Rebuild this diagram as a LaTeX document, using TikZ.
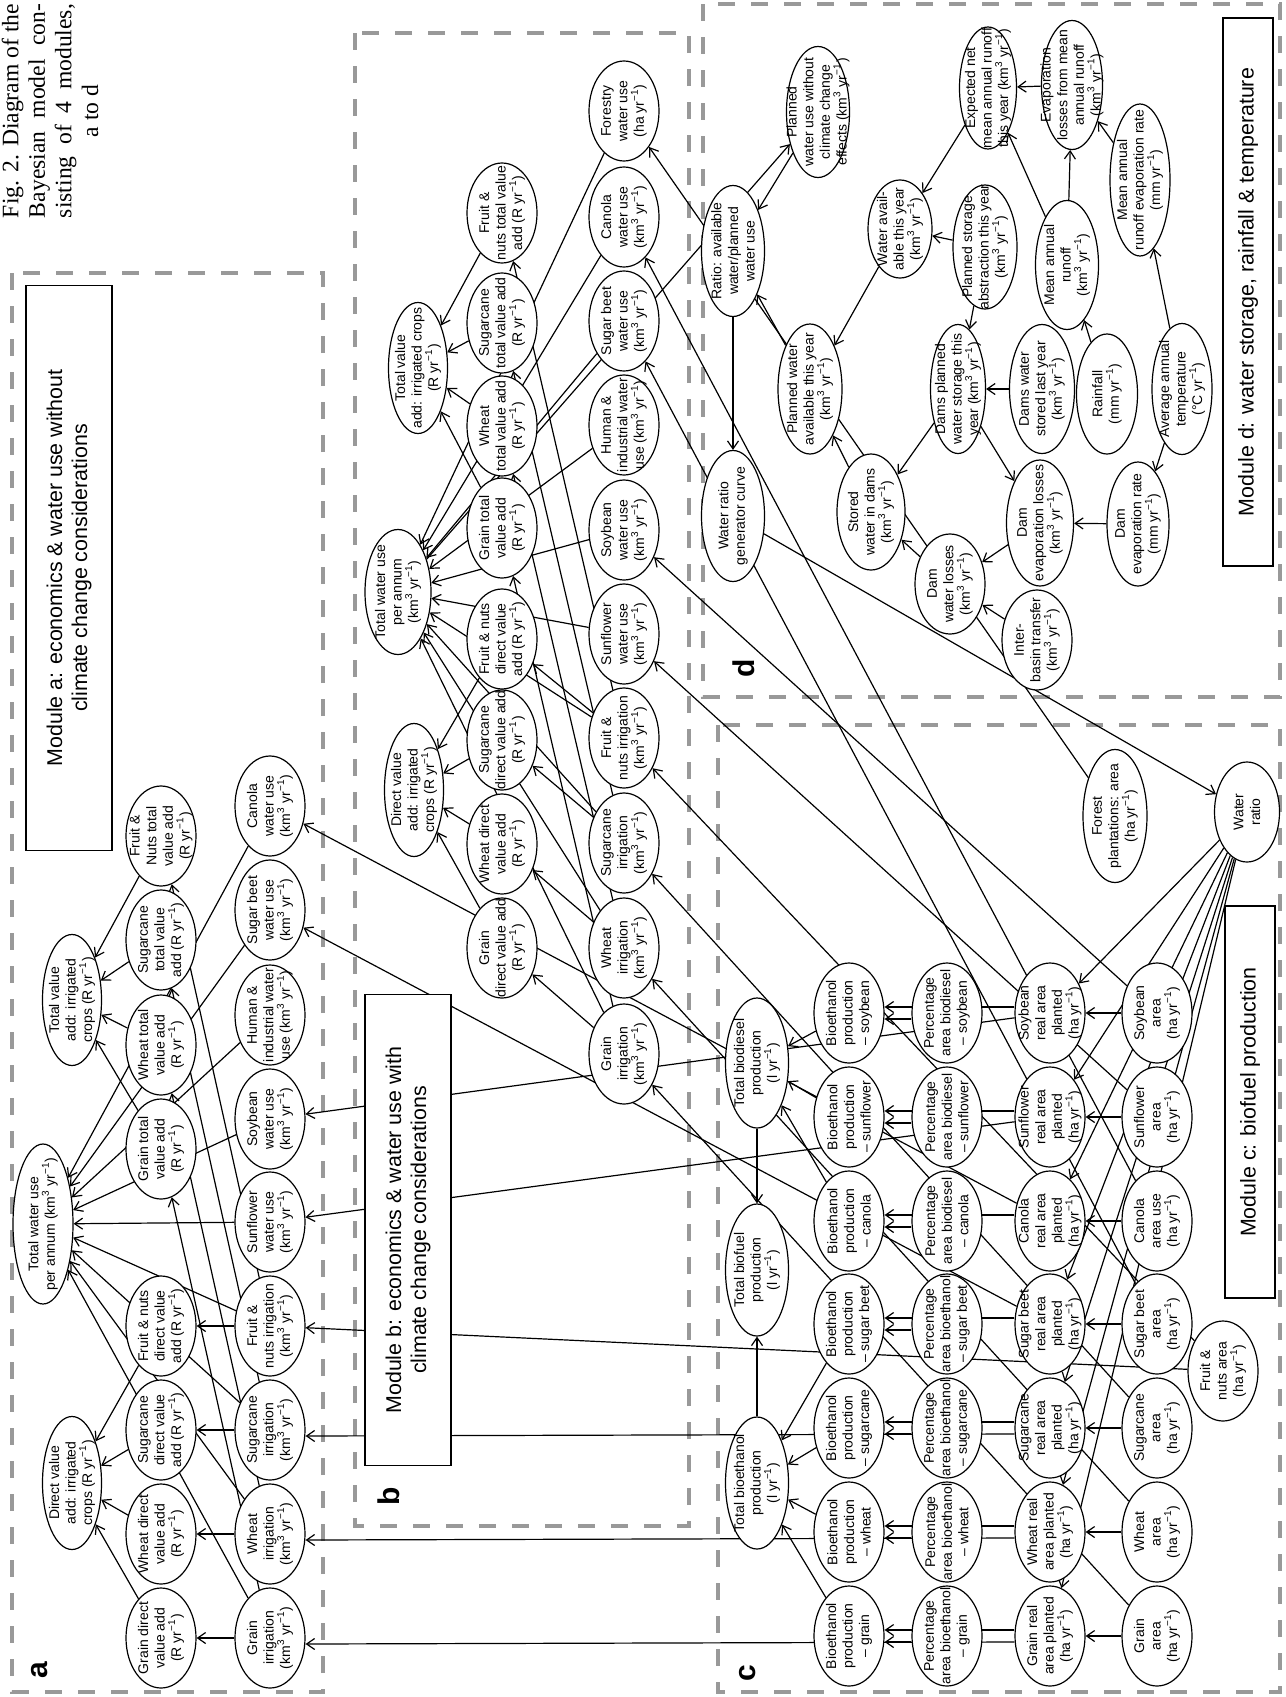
\documentclass[tikz,border=0pt]{standalone}
\usepackage{fontspec}
\setmainfont{Liberation Serif}
\setsansfont{Liberation Sans}
\usetikzlibrary{shapes.geometric, arrows.meta, backgrounds}
\definecolor{framegray}{gray}{0.6}
\newcommand{\uKm}{(km\textsuperscript{3} yr\textsuperscript{−1})}
\newcommand{\uR}{(R yr\textsuperscript{−1})}
\newcommand{\uHa}{(ha yr\textsuperscript{−1})}
\newcommand{\uMm}{(mm yr\textsuperscript{−1})}
\newcommand{\uL}{(l yr\textsuperscript{−1})}

\begin{document}
\begin{tikzpicture}[
    x=0.5pt, y=-0.5pt,
    bnode/.style={ellipse, draw, fill=white, line width=0.6pt, rotate=90, align=center,
        font=\sffamily\fontsize{7}{8.3}\selectfont, inner xsep=-30pt, inner ysep=-14pt,
        minimum width=50pt, minimum height=35pt},
    titlebox/.style={draw, fill=white, line width=0.6pt, rotate=90, align=center, inner sep=0pt,
        font=\sffamily\fontsize{10.7}{12.5}\selectfont},
    modframe/.style={draw=framegray, line width=2.2pt, dash pattern=on 8.5pt off 8pt},
    letter/.style={rotate=90, font=\sffamily\bfseries\fontsize{15}{18}\selectfont},
    figcap/.style={rotate=90, align=center, inner sep=0pt, font=\rmfamily\fontsize{11.8}{13.3}\selectfont},
    arr/.style={-{Straight Barb[length=4pt,width=5.5pt]}, line width=0.6pt}
]
    \useasboundingbox (0,0) rectangle (1285,1697);

    % 图题
    \node[figcap] (fig) at (50,111) {\makebox[107pt][s]{Fig. 2. Diagram of the}\\
        \makebox[107pt][s]{Bayesian model con-}\\ \makebox[107pt][s]{sisting of 4 modules,}\\ a to d};

    % 模块框
    \node[titlebox, minimum width=282.5pt, minimum height=43pt] (tita) at (69,568)
        {Module a: economics \& water use without\\climate change considerations};
    \node[titlebox, minimum width=235.5pt, minimum height=43pt] (titb) at (408,1230)
        {Module b: economics \& water use with\\climate change considerations};
    \node[titlebox, minimum width=196pt, minimum height=25pt] (titc) at (1250,1102)
        {Module c: biofuel production};
    \node[titlebox, minimum width=274pt, minimum height=25pt] (titd) at (1248,292)
        {Module d: water storage, rainfall \& temperature};
    \node[letter] (laba) at (40,1670) {a};
    \node[letter] (labb) at (389,1496) {b};
    \node[letter] (labc) at (748,1673) {c};
    \node[letter] (labd) at (744,668) {d};

    % 模块 a
    \node[bnode, minimum width=65.5pt, minimum height=29.5pt] (tva) at (72,1000) {Total value\\add: irrigated\\crops \uR};
    \node[bnode, minimum width=80pt, minimum height=30pt] (twa) at (43,1224) {Total water use\\per annum \uKm};
    \node[bnode, minimum width=66.5pt, minimum height=29.5pt] (dva) at (72,1483) {Direct value\\add: irrigated\\crops \uR};
    \node[bnode] (fnta) at (161,836) {Fruit \&\\Nuts total\\value add\\\uR};
    \node[bnode] (scta) at (161,940) {Sugarcane\\total value\\add \uR};
    \node[bnode] (wtta) at (161,1045) {Wheat total\\value add\\\uR};
    \node[bnode] (grta) at (161,1149) {Grain total\\value add\\\uR};
    \node[bnode] (fnda) at (161,1326) {Fruit \& nuts\\direct value\\add \uR};
    \node[bnode] (scda) at (161,1430) {Sugarcane\\direct value\\add \uR};
    \node[bnode] (wtda) at (161,1534) {Wheat direct\\value add\\\uR};
    \node[bnode] (grda) at (161,1638) {Grain direct\\value add\\\uR};
    \node[bnode] (canwa) at (270,806) {Canola\\water use\\\uKm};
    \node[bnode] (sbwa) at (270,910) {Sugar beet\\water use\\\uKm};
    \node[bnode] (hiwa) at (270,1015) {Human \&\\industrial water\\use \uKm};
    \node[bnode] (sywa) at (270,1119) {Soybean\\water use\\\uKm};
    \node[bnode] (sfwa) at (270,1222) {Sunflower\\water use\\\uKm};
    \node[bnode] (fnia) at (270,1326) {Fruit \&\\nuts irrigation\\\uKm};
    \node[bnode] (scia) at (270,1430) {Sugarcane\\irrigation\\\uKm};
    \node[bnode] (wtia) at (270,1534) {Wheat\\irrigation\\\uKm};
    \node[bnode] (gria) at (270,1638) {Grain\\irrigation\\\uKm};

    % 模块 b
    \node[bnode, minimum width=65.5pt, minimum height=29.5pt] (tvb) at (418,368) {Total value\\add: irrigated crops\\\uR};
    \node[bnode, minimum width=62.5pt, minimum height=33pt] (twb) at (398,592) {Total water use\\per annum\\\uKm};
    \node[bnode, minimum width=66.5pt, minimum height=29.5pt] (dvb) at (414,790) {Direct value\\add: irrigated\\crops \uR};
    \node[bnode] (fntb) at (502,213) {Fruit \&\\nuts total value\\add \uR};
    \node[bnode] (sctb) at (502,323) {Sugarcane\\total value add\\\uR};
    \node[bnode] (wttb) at (502,426) {Wheat\\total value add\\\uR};
    \node[bnode] (grtb) at (502,528) {Grain total\\value add\\\uR};
    \node[bnode] (fndb) at (502,639) {Fruit \& nuts\\direct value\\add \uR};
    \node[bnode] (scdb) at (502,740) {Sugarcane\\direct value add\\\uR};
    \node[bnode] (wtdb) at (502,844) {Wheat direct\\value add\\\uR};
    \node[bnode] (grdb) at (502,948) {Grain\\direct value add\\\uR};
    \node[bnode] (fowb) at (624,111) {Forestry\\water use\\\uHa};
    \node[bnode] (canwb) at (624,217) {Canola\\water use\\\uKm};
    \node[bnode] (sbwb) at (624,321) {Sugar beet\\water use\\\uKm};
    \node[bnode] (hiwb) at (624,425) {Human \&\\industrial water\\use \uKm};
    \node[bnode] (sywb) at (624,530) {Soybean\\water use\\\uKm};
    \node[bnode] (sfwb) at (624,634) {Sunflower\\water use\\\uKm};
    \node[bnode] (fnib) at (624,738) {Fruit \&\\nuts irrigation\\\uKm};
    \node[bnode] (scib) at (624,843) {Sugarcane\\irrigation\\\uKm};
    \node[bnode] (wtib) at (624,948) {Wheat\\irrigation\\\uKm};
    \node[bnode] (grib) at (624,1054) {Grain\\irrigation\\\uKm};

    % 模块 d
    \node[bnode, minimum width=65.5pt, minimum height=31.5pt] (pwo) at (818,112) {Planned\\water use without\\climate change\\effects \uKm};
    \node[bnode, minimum width=65.5pt, minimum height=31.5pt] (ratio) at (733,251) {Ratio: available\\water/planned\\water use};
    \node[bnode, minimum width=65pt, minimum height=32pt] (pwa) at (810,389) {Planned water\\available this year\\\uKm};
    \node[bnode, minimum width=65.5pt, minimum height=31.5pt] (wrg) at (733,516) {Water ratio\\generator curve};
    \node[bnode, minimum width=58pt, minimum height=34pt] (stored) at (871,512) {Stored\\water in dams\\\uKm};
    \node[bnode, minimum width=49pt, minimum height=32pt] (wavail) at (900,229) {Water avail-\\able this year\\\uKm};
    \node[bnode, minimum width=62pt, minimum height=32pt] (psa) at (985,247) {Planned storage\\abstraction this year\\\uKm};
    \node[bnode, minimum width=64.5pt, minimum height=31.5pt] (mar) at (1067,265) {Mean annual\\runoff\\\uKm};
    \node[bnode, minimum width=61pt, minimum height=28.5pt] (enr) at (988,88) {Expected net\\mean annual runoff\\this year \uKm};
    \node[bnode, minimum width=64.5pt, minimum height=30.5pt] (elr) at (1072,85) {Evaporation\\losses from mean\\annual runoff\\\uKm};
    \node[bnode, minimum width=76pt, minimum height=30pt] (mre) at (1140,180) {Mean annual\\runoff evaporation rate\\\uMm};
    \node[bnode, minimum width=64.5pt, minimum height=27.5pt] (dpw) at (958,389) {Dams planned\\water storage this\\year \uKm};
    \node[bnode, minimum width=64.5pt, minimum height=32.5pt] (dws) at (1042,389) {Dams water\\stored last year\\\uKm};
    \node[bnode, minimum width=60pt, minimum height=30.5pt] (rain) at (1107,394) {Rainfall\\\uMm};
    \node[bnode, minimum width=65.5pt, minimum height=30pt] (temp) at (1182,389) {Average annual\\temperature\\(°C yr\textsuperscript{−1})};
    \node[bnode, minimum width=63pt, minimum height=33.5pt] (del) at (1040,523) {Dam\\evaporation losses\\\uKm};
    \node[bnode, minimum width=62pt, minimum height=31pt] (der) at (1138,524) {Dam\\evaporation rate\\\uMm};
    \node[bnode] (dwl) at (950,584) {Dam\\water losses\\\uKm};
    \node[bnode] (ibt) at (1037,640) {Inter-\\basin transfer\\\uKm};

    % 模块 c
    \node[bnode, minimum width=66.5pt, minimum height=32pt] (forest) at (1115,816) {Forest\\plantations: area\\\uHa};
    \node[bnode, minimum height=32.5pt] (wratio) at (1247,812) {Water\\ratio};
    \node[bnode, minimum width=65pt, minimum height=31.5pt] (tdie) at (757,1063) {Total biodiesel\\production\\\uL};
    \node[bnode, minimum width=66pt, minimum height=31.5pt] (tfuel) at (757,1270) {Total biofuel\\production\\\uL};
    \node[bnode, minimum width=66pt, minimum height=31.5pt] (teth) at (757,1483) {Total bioethanol\\production\\\uL};
    \node[bnode] (bsy) at (849,1013) {Bioethanol\\production\\– soybean};
    \node[bnode] (bsf) at (849,1117) {Bioethanol\\production\\– sunflower};
    \node[bnode] (bca) at (849,1221) {Bioethanol\\production\\– canola};
    \node[bnode] (bsb) at (849,1324) {Bioethanol\\production\\– sugar beet};
    \node[bnode] (bsc) at (849,1428) {Bioethanol\\production\\– sugarcane};
    \node[bnode] (bwt) at (849,1532) {Bioethanol\\production\\– wheat};
    \node[bnode] (bgr) at (849,1636) {Bioethanol\\production\\– grain};
    \node[bnode] (psy) at (947,1013) {Percentage\\area biodiesel\\– soybean};
    \node[bnode] (psf) at (947,1117) {Percentage\\area biodiesel\\– sunflower};
    \node[bnode] (pca) at (947,1221) {Percentage\\area biodiesel\\– canola};
    \node[bnode] (psb) at (947,1324) {Percentage\\area bioethanol\\– sugar beet};
    \node[bnode] (psc) at (947,1428) {Percentage\\area bioethanol\\– sugarcane};
    \node[bnode] (pwt) at (947,1532) {Percentage\\area bioethanol\\– wheat};
    \node[bnode] (pgr) at (947,1636) {Percentage\\area bioethanol\\– grain};
    \node[bnode] (rsy) at (1050,1013) {Soybean\\real area\\planted\\\uHa};
    \node[bnode] (rsf) at (1050,1117) {Sunflower\\real area\\planted\\\uHa};
    \node[bnode] (rca) at (1050,1221) {Canola\\real area\\planted\\\uHa};
    \node[bnode] (rsb) at (1050,1324) {Sugar beet\\real area\\planted\\\uHa};
    \node[bnode] (rsc) at (1050,1428) {Sugarcane\\real area\\planted\\\uHa};
    \node[bnode] (rwt) at (1050,1532) {Wheat real\\area planted\\\uHa};
    \node[bnode] (rgr) at (1050,1636) {Grain real\\area planted\\\uHa};
    \node[bnode] (asy) at (1157,1013) {Soybean\\area\\\uHa};
    \node[bnode] (asf) at (1157,1117) {Sunflower\\area\\\uHa};
    \node[bnode] (aca) at (1157,1221) {Canola\\area use\\\uHa};
    \node[bnode] (asb) at (1157,1324) {Sugar beet\\area\\\uHa};
    \node[bnode] (asc) at (1157,1428) {Sugarcane\\area\\\uHa};
    \node[bnode] (awt) at (1157,1532) {Wheat\\area\\\uHa};
    \node[bnode] (agr) at (1157,1636) {Grain\\area\\\uHa};
    \node[bnode] (fnar) at (1223,1371) {Fruit \&\\nuts area\\\uHa};

    \begin{scope}[on background layer]
    % 虚线模块框
    \draw[modframe] (12,273) rectangle (323,1692);
    \draw[modframe] (355,33) rectangle (689,1526);
    \draw[modframe] (718,725) rectangle (1280,1692);
    \draw[modframe] (703,4) rectangle (1280,697);

    % 模块 a 连线
    \draw[arr] (gria) -- (grda);
    \draw[arr] (wtia) -- (wtda);
    \draw[arr] (scia) -- (scda);
    \draw[arr] (fnia) -- (fnda);
    \draw[arr] (grda) -- (dva);
    \draw[arr] (wtda) -- (dva);
    \draw[arr] (scda) -- (dva);
    \draw[arr] (fnda) -- (dva);
    \draw[arr] (gria) -- (grta);
    \draw[arr] (wtia) -- (wtta);
    \draw[arr] (scia) -- (scta);
    \draw[arr] (fnia) -- (fnta);
    \draw[arr] (grta) -- (tva);
    \draw[arr] (wtta) -- (tva);
    \draw[arr] (scta) -- (tva);
    \draw[arr] (fnta) -- (tva);
    \draw[arr] (canwa) -- (twa);
    \draw[arr] (sbwa) -- (twa);
    \draw[arr] (hiwa) -- (twa);
    \draw[arr] (sywa) -- (twa);
    \draw[arr] (sfwa) -- (twa);
    \draw[arr] (fnia) -- (twa);
    \draw[arr] (scia) -- (twa);
    \draw[arr] (wtia) -- (twa);
    \draw[arr] (gria) -- (twa);

    % 模块 b 连线
    \draw[arr] (grib) -- (grdb);
    \draw[arr] (wtib) -- (wtdb);
    \draw[arr] (scib) -- (scdb);
    \draw[arr] (fnib) -- (fndb);
    \draw[arr] (grdb) -- (dvb);
    \draw[arr] (wtdb) -- (dvb);
    \draw[arr] (scdb) -- (dvb);
    \draw[arr] (fndb) -- (dvb);
    \draw[arr] (grib) -- (grtb);
    \draw[arr] (wtib) -- (wttb);
    \draw[arr] (scib) -- (sctb);
    \draw[arr] (fnib) -- (fntb);
    \draw[arr] (grtb) -- (tvb);
    \draw[arr] (wttb) -- (tvb);
    \draw[arr] (sctb) -- (tvb);
    \draw[arr] (fntb) -- (tvb);
    \draw[arr] (fowb) -- (twb);
    \draw[arr] (canwb) -- (twb);
    \draw[arr] (sbwb) -- (twb);
    \draw[arr] (hiwb) -- (twb);
    \draw[arr] (sywb) -- (twb);
    \draw[arr] (sfwb) -- (twb);
    \draw[arr] (fnib) -- (twb);
    \draw[arr] (scib) -- (twb);
    \draw[arr] (wtib) -- (twb);
    \draw[arr] (grib) -- (twb);
    \draw[arr] (twb) -- (pwo);

    % 模块 d 连线
    \draw[arr] (elr) -- (enr);
    \draw[arr] (mar) -- (enr);
    \draw[arr] (mar) -- (elr);
    \draw[arr] (mre) -- (elr);
    \draw[arr] (enr) -- (wavail);
    \draw[arr] (psa) -- (wavail);
    \draw[arr] (psa) -- (dpw);
    \draw[arr] (wavail) -- (pwa);
    \draw[arr] (dws) -- (dpw);
    \draw[arr] (dpw) -- (stored);
    \draw[arr] (dpw) -- (del);
    \draw[arr] (rain) -- (mar);
    \draw[arr] (temp) -- (mre);
    \draw[arr] (temp) -- (der);
    \draw[arr] (der) -- (del);
    \draw[arr] (del) -- (dwl);
    \draw[arr] (ibt) -- (dwl);
    \draw[arr] (dwl) -- (stored);
    \draw[arr] (stored) -- (pwa);
    \draw[arr] (pwa) -- (ratio);
    \draw[arr] (pwo) -- (ratio);
    \draw[arr] (ratio) -- (wrg);
    \draw[arr] (wrg) -- (wratio);

    % 模块 c 连线
    \draw[arr] (asy) -- (rsy);
    \draw[arr] (asf) -- (rsf);
    \draw[arr] (aca) -- (rca);
    \draw[arr] (asb) -- (rsb);
    \draw[arr] (asc) -- (rsc);
    \draw[arr] (awt) -- (rwt);
    \draw[arr] (agr) -- (rgr);
    \draw[arr] (wratio) -- (rsy);
    \draw[arr] (wratio) -- (rsf);
    \draw[arr] (wratio) -- (rca);
    \draw[arr] (wratio) -- (rsb);
    \draw[arr] (wratio) -- (rsc);
    \draw[arr] (wratio) -- (rwt);
    \draw[arr] (wratio) -- (rgr);
    \draw[arr] ([yshift=3pt]rsy.north) -- ([yshift=3pt]bsy.south);
    \draw[arr] ([yshift=3pt]rsf.north) -- ([yshift=3pt]bsf.south);
    \draw[arr] ([yshift=3pt]rca.north) -- ([yshift=3pt]bca.south);
    \draw[arr] ([yshift=3pt]rsb.north) -- ([yshift=3pt]bsb.south);
    \draw[arr] ([yshift=3pt]rsc.north) -- ([yshift=3pt]bsc.south);
    \draw[arr] ([yshift=3pt]rwt.north) -- ([yshift=3pt]bwt.south);
    \draw[arr] ([yshift=3pt]rgr.north) -- ([yshift=3pt]bgr.south);
    \draw[arr] ([yshift=-3pt]psy.north) -- ([yshift=-3pt]bsy.south);
    \draw[arr] ([yshift=-3pt]psf.north) -- ([yshift=-3pt]bsf.south);
    \draw[arr] ([yshift=-3pt]pca.north) -- ([yshift=-3pt]bca.south);
    \draw[arr] ([yshift=-3pt]psb.north) -- ([yshift=-3pt]bsb.south);
    \draw[arr] ([yshift=-3pt]psc.north) -- ([yshift=-3pt]bsc.south);
    \draw[arr] ([yshift=-3pt]pwt.north) -- ([yshift=-3pt]bwt.south);
    \draw[arr] ([yshift=-3pt]pgr.north) -- ([yshift=-3pt]bgr.south);
    \draw[arr] (bsy) -- (tdie);
    \draw[arr] (bsf) -- (tdie);
    \draw[arr] (bca) -- (tdie);
    \draw[arr] (bsb) -- (teth);
    \draw[arr] (bsc) -- (teth);
    \draw[arr] (bwt) -- (teth);
    \draw[arr] (bgr) -- (teth);
    \draw[arr] (tdie) -- (tfuel);
    \draw[arr] (teth) -- (tfuel);

    % 模块之间的长连线
    \draw[arr] ([yshift=-3pt]rgr.north) -- ([yshift=-3pt]gria.south);
    \draw[arr] ([yshift=-3pt]rwt.north) -- ([yshift=-3pt]wtia.south);
    \draw[arr] ([yshift=-3pt]rsc.north) -- ([yshift=-3pt]scia.south);
    \draw[arr] (rsf) -- (sfwa);
    \draw[arr] (rsy) -- (sywa);
    \draw[arr] (rca) -- (canwa);
    \draw[arr] (rsb) -- (sbwa);
    \draw[arr] (fnar) -- (fnia);
    \draw[arr] (agr) -- (grib);
    \draw[arr] (awt) -- (wtib);
    \draw[arr] (asc) -- (scib);
    \draw[arr] (fnar) -- (fnib);
    \draw[arr] (asb) -- (sbwb);
    \draw[arr] (aca) -- (canwb);
    \draw[arr] (asy) -- (sywb);
    \draw[arr] (asf) -- (sfwb);
    \draw[arr] (forest) -- (fowb);
    \end{scope}
\end{tikzpicture}
\end{document}
